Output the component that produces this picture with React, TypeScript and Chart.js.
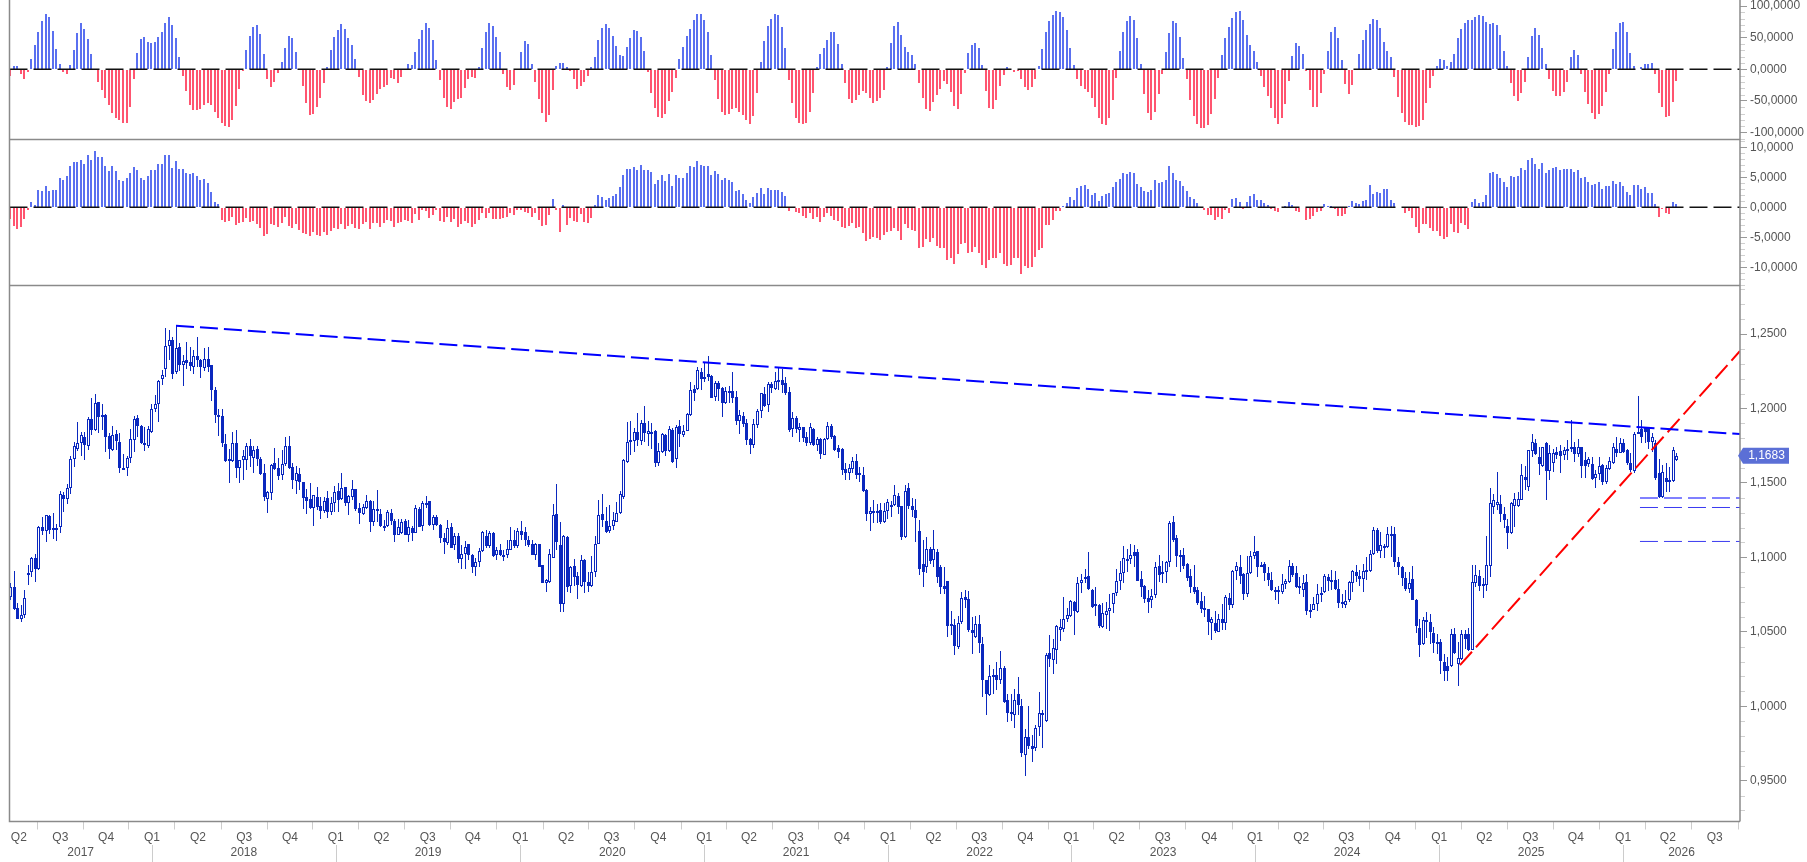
import React, { useEffect, useRef } from 'react';
import { Chart, registerables } from 'chart.js';

Chart.register(...registerables);

// weekly candles, prices in pips (1.1683 -> 11683)
const opens = [
  10735,10798,10657,10587,10610,10892,10903,10993,10923,11201,11174,11277,11194,11194,11201,11418,11389,11463,11658,11730,
  11765,11808,11745,11927,11857,12041,11954,11954,11815,11721,11828,11772,11595,11602,11665,11786,11933,11882,11765,11750,
  11842,11996,12027,12195,12263,12422,12458,12245,12411,12294,12323,12310,12281,12350,12323,12274,12330,12290,12122,11956,
  11949,11761,11658,11649,11765,11602,11653,11651,11745,11667,11725,11658,11570,11389,11434,11631,11600,11555,11624,11745,
  11606,11515,11557,11506,11403,11389,11331,11403,11342,11313,11396,11306,11367,11445,11389,11470,11367,11403,11456,11331,
  11290,11331,11376,11235,11317,11290,11212,11212,11295,11241,11152,11165,11241,11152,11194,11165,11324,11212,11353,11376,
  11219,11268,11217,11127,11098,11205,11082,11143,10986,11022,11089,11015,10937,10972,11040,11143,11075,11161,11017,11049,
  11017,11013,11049,11120,11075,11174,11170,11120,11087,11017,11089,10946,10831,10836,10997,11290,11082,10690,11136,10807,
  10941,10874,10807,10981,10834,10809,10899,11093,11290,11241,11178,11214,11239,11295,11407,11642,11786,11781,11842,11783,
  11900,11830,11839,11846,11635,11707,11821,11716,11855,11658,11880,11824,11851,11954,12128,12128,12247,12209,12229,12218,
  12077,12169,12137,12039,12119,12115,12077,11918,11949,11902,11792,11756,11886,11980,12095,12025,12164,12131,12175,12191,
  12171,12110,11864,11933,11857,11873,11808,11765,11862,11756,11795,11689,11792,11882,11815,11732,11725,11591,11564,11595,
  11647,11564,11553,11452,11288,11306,11306,11315,11239,11313,11349,11349,11409,11342,11138,11463,11342,11317,11176,10955,
  10937,11055,10981,11035,10932,10807,10838,10551,10549,10399,10565,10733,10719,10511,10466,10551,10421,10175,10076,10213,
  10213,10175,10260,10041,9964,9942,10079,10005,9673,9796,9731,9720,9861,9944,9902,10361,10314,10381,10513,10520,
  10587,10607,10699,10634,10829,10856,10872,10784,10677,10683,10533,10616,10643,10690,10762,10843,10898,10984,10986,11033,
  11033,10852,10811,10724,10713,10748,10939,10890,10903,10966,11235,11127,11019,11013,10954,10872,10798,10778,10710,10657,
  10650,10560,10556,10500,10589,10560,10724,10681,10910,10932,10887,10757,10894,11010,11042,10946,10954,10892,10847,10780,
  10778,10769,10820,10834,10939,10892,10791,10784,10835,10638,10645,10690,10757,10768,10869,10851,10846,10790,10685,10683,
  10712,10828,10900,10878,10855,10909,10907,11021,11187,11044,11071,11070,11149,11155,10972,10932,10862,10786,10858,10712,
  10528,10419,10578,10566,10495,10430,10430,10300,10268,10273,10483,10282,10320,10483,10483,10380,10828,10873,10806,10817,
  10940,11335,11355,11357,11290,11214,11164,11344,11344,11388,11541,11474,11716,11771,11671,11617,11771,11577,11637,11709,
  11716,11686,11716,11729,11742,11693,11738,11653,11626,11624,11530,11559,11619,11507,11595,11637,11731,11704,11769,11720,
  11637,11581,11832,11859,11866,11866,11776,11769,11568,11406,11536,11507,11512,11657,
];
const highs = [
  10825,10907,10695,10679,10780,10948,11004,11022,11210,11268,11282,11284,11295,11221,11445,11441,11492,11680,11774,11906,
  11844,11844,11945,12070,12097,12045,12030,11960,11833,11884,11855,11833,11694,11680,11862,11949,11956,11891,11877,11882,
  12030,12090,12191,12258,12540,12527,12478,12561,12437,12359,12446,12410,12393,12480,12334,12404,12410,12292,12142,11994,
  11994,11828,11727,11839,11855,11653,11721,11765,11795,11750,11750,11676,11624,11447,11627,11732,11669,11721,11806,11815,
  11631,11615,11597,11508,11456,11497,11418,11470,11403,11407,11447,11407,11479,11497,11570,11474,11418,11519,11461,11367,
  11358,11416,11385,11376,11452,11322,11250,11317,11322,11259,11259,11257,11259,11250,11212,11351,11340,11380,11411,11380,
  11284,11284,11221,11161,11250,11232,11165,11161,11082,11111,11089,11026,10999,11060,11176,11183,11176,11170,11071,11093,
  11049,11116,11205,11183,11194,11243,11201,11143,11120,11098,11093,10952,10858,11053,11358,11492,11239,11149,11143,10941,
  10988,10903,11015,10986,10899,11008,11143,11385,11425,11340,11351,11306,11371,11447,11658,11909,11918,11866,11967,11922,
  12016,11915,11900,11855,11770,11833,11828,11882,11866,11889,11922,11889,11967,12178,12157,12276,12269,12307,12352,12225,
  12187,12184,12142,12146,12151,12245,12117,11989,11978,11927,11799,11931,11994,12106,12146,12180,12180,12245,12276,12263,
  12213,12146,11978,11949,11900,11877,11844,11904,11868,11806,11803,11801,11907,11893,11819,11754,11732,11635,11627,11671,
  11694,11604,11604,11456,11335,11385,11358,11367,11362,11389,11380,11485,11434,11344,11485,11501,11396,11389,11250,11120,
  11134,11071,11183,11053,10948,10932,10840,10639,10589,10605,10766,10784,10773,10601,10605,10612,10462,10179,10276,10253,
  10296,10370,10269,10085,10081,10115,10197,10047,9850,10000,9805,9873,10094,9973,10361,10477,10451,10545,10589,10731,
  10657,10713,10708,10865,10887,10925,11035,10789,10802,10690,10695,10699,10757,10762,10925,10975,11075,11053,11093,11082,
  11053,10907,10813,10780,10787,10966,11015,10975,10975,11241,11277,11147,11049,11060,10959,10925,10948,10802,10766,10739,
  10652,10601,10639,10618,10690,10746,10762,10914,10966,11015,10896,11008,11042,11143,11044,10970,10968,10932,10901,10798,
  10807,10887,10858,10981,10959,10941,10865,10880,10887,10690,10734,10820,10802,10891,10891,10914,10909,10853,10752,10779,
  10840,10918,10947,10914,10958,11003,11048,11205,11200,11171,11093,11205,11209,11205,11003,10940,10902,10902,10940,10723,
  10589,10600,10634,10622,10533,10488,10454,10354,10331,10522,10524,10432,10510,10515,10524,10949,10947,10914,10862,11142,
  11469,11424,11572,11422,11339,11261,11373,11429,11440,11630,11612,11720,11827,11792,11742,11742,11776,11754,11731,11742,
  11754,11742,11787,11922,11776,11792,11742,11709,11675,11675,11590,11675,11624,11619,11675,11765,11810,11805,11792,11731,
  11698,11843,12083,11926,11877,11877,11832,11787,11664,11619,11635,11608,11742,11702,
];
const lows = [
  10713,10645,10583,10569,10592,10813,10865,10834,10914,11149,11102,11156,11125,11111,11165,11304,11358,11425,11609,11716,
  11680,11653,11721,11819,11848,11833,11855,11709,11662,11712,11721,11568,11586,11548,11635,11707,11810,11761,11716,11732,
  11837,11978,11911,12157,12209,12325,12200,12231,12254,12151,12267,12254,12231,12281,12207,12254,12245,12052,11904,11817,
  11743,11642,11501,11642,11532,11501,11519,11586,11609,11568,11613,11555,11380,11295,11385,11586,11519,11519,11615,11595,
  11459,11425,11452,11324,11290,11322,11210,11317,11257,11295,11264,11284,11306,11306,11385,11344,11284,11385,11313,11223,
  11286,11322,11172,11214,11239,11205,11178,11205,11217,11102,11147,11156,11147,11102,11111,11161,11201,11179,11331,11212,
  11183,11214,11098,11022,11082,11060,11049,10959,10925,10925,10981,10896,10876,10937,11037,11066,11066,11004,10981,11008,
  10977,10995,11049,11062,11066,11116,11075,11071,11015,10981,10932,10825,10769,10831,10995,11049,10634,10634,10769,10762,
  10807,10722,10802,10762,10769,10802,10865,11089,11205,11165,11165,11187,11235,11290,11394,11631,11687,11707,11747,11754,
  11774,11747,11730,11609,11613,11703,11680,11709,11635,11600,11743,11806,11848,11949,12052,12124,12124,12180,12186,12068,
  12052,12052,11945,12030,12039,12039,11891,11828,11873,11754,11694,11732,11866,11936,12007,11976,12106,12124,12124,12101,
  12092,11844,11806,11837,11777,11772,11747,11754,11747,11716,11662,11689,11788,11792,11712,11665,11553,11519,11519,11568,
  11528,11506,11441,11246,11178,11232,11228,11221,11234,11255,11268,11344,11290,11116,11131,11326,11273,11105,10881,10802,
  10896,10955,10937,10829,10753,10753,10466,10477,10343,10383,10551,10657,10498,10350,10459,10359,10061,9940,10072,10085,
  10112,10148,10023,9895,9902,9852,9940,9660,9530,9716,9624,9700,9799,9720,9895,10265,10215,10283,10437,10500,
  10565,10601,10477,10627,10762,10829,10784,10663,10607,10524,10524,10518,10507,10627,10739,10780,10829,10901,10955,10932,
  10840,10735,10695,10627,10657,10728,10834,10829,10829,10934,11102,10932,10903,10925,10843,10762,10757,10679,10627,10601,
  10477,10444,10493,10500,10511,10511,10645,10659,10847,10820,10713,10735,10887,10990,10869,10932,10840,10807,10775,10713,
  10686,10753,10787,10829,10865,10793,10757,10734,10611,10591,10645,10640,10701,10761,10775,10784,10784,10663,10660,10660,
  10701,10768,10835,10811,10768,10846,10902,11014,11030,10996,10996,11066,11003,10936,10880,10806,10775,10761,10712,10492,
  10331,10414,10461,10421,10358,10354,10219,10170,10170,10264,10354,10136,10309,10387,10372,10376,10802,10775,10728,10775,
  10869,11294,11317,11238,11194,11059,11160,11205,11339,11384,11451,11447,11675,11686,11552,11608,11384,11518,11574,11664,
  11568,11653,11657,11709,11642,11671,11536,11536,11608,11518,11469,11518,11485,11491,11586,11630,11675,11698,11698,11619,
  11574,11568,11832,11765,11765,11731,11709,11523,11402,11402,11440,11440,11507,11648,
];
const closes = [
  10798,10650,10589,10610,10724,10883,10995,10923,11203,11178,11282,11187,11192,11187,11423,11394,11463,11658,11750,11765,
  11819,11756,11927,11857,12034,11940,11947,11810,11730,11819,11783,11602,11602,11665,11792,11927,11884,11765,11752,11862,
  11994,12027,12184,12222,12417,12458,12234,12404,12294,12316,12303,12287,12350,12323,12281,12330,12278,12126,11958,11940,
  11770,11649,11649,11765,11602,11651,11682,11745,11682,11718,11658,11559,11407,11436,11618,11593,11548,11624,11745,11602,
  11519,11564,11506,11400,11380,11333,11418,11335,11313,11376,11306,11367,11436,11387,11463,11364,11409,11456,11326,11295,
  11340,11376,11235,11322,11322,11214,11214,11302,11246,11147,11201,11235,11152,11201,11165,11331,11205,11362,11367,11217,
  11268,11217,11127,11100,11194,11066,11143,10986,11026,11071,11013,10937,10972,11040,11170,11075,11161,11010,11049,11017,
  11010,11053,11120,11075,11174,11152,11116,11082,11017,11093,10937,10829,10847,11026,11282,11105,10690,11143,10802,10932,
  10869,10813,10981,10834,10807,10899,11093,11282,11250,11170,11214,11248,11295,11425,11653,11772,11777,11842,11788,11900,
  11837,11846,11837,11631,11712,11826,11716,11860,11642,11873,11828,11851,11962,12122,12106,12256,12198,12200,12213,12072,
  12169,12133,12039,12115,12113,12068,11918,11954,11895,11788,11756,11895,11980,12101,12016,12164,12137,12182,12191,12157,
  12104,11855,11933,11862,11873,11803,11768,11873,11756,11792,11694,11797,11880,11806,11721,11707,11586,11564,11597,11647,
  11555,11555,11447,11288,11313,11313,11313,11239,11313,11371,11355,11416,11340,11138,11443,11344,11317,11266,10923,10903,
  11055,10977,11055,10869,10802,10789,10542,10545,10406,10556,10724,10715,10511,10493,10551,10426,10177,10085,10206,10206,
  10177,10256,10029,9955,9949,10041,10011,9687,9796,9734,9714,9857,9958,9958,10347,10318,10394,10538,10529,10583,
  10612,10706,10641,10825,10851,10865,10789,10668,10690,10540,10627,10643,10663,10762,10838,10898,10999,10988,11019,11008,
  10843,10798,10722,10701,10742,10932,10883,10905,10968,11228,11116,11010,11004,10943,10863,10798,10769,10695,10654,10648,
  10567,10583,10504,10589,10560,10731,10677,10907,10939,10876,10753,10892,11006,11033,10934,10939,10896,10847,10780,10773,
  10769,10818,10838,10939,10881,10802,10807,10831,10640,10649,10690,10757,10763,10873,10844,10840,10790,10694,10701,10710,
  10833,10907,10873,10855,10909,10918,11026,11187,11044,11082,11077,11160,11160,10972,10932,10864,10790,10831,10716,10537,
  10414,10578,10564,10497,10425,10421,10302,10237,10237,10488,10358,10324,10488,10452,10376,10833,10880,10806,10824,10952,
  11362,11388,11371,11294,11250,11164,11362,11393,11395,11550,11523,11720,11776,11693,11624,11738,11581,11702,11702,11686,
  11680,11720,11729,11742,11693,11742,11615,11615,11660,11525,11563,11615,11507,11597,11646,11738,11698,11771,11709,11635,
  11586,11828,11843,11810,11839,11776,11810,11536,11406,11572,11507,11518,11720,11683,
];

// upper oscillator
const fastOsc = [
  -11,5,5,-7,-15,-5,16,38,59,76,88,83,61,32,8,-5,-7,7,31,57,73,63,48,24,0,-20,-33,-45,-56,-69,-77,-80,-85,-85,-59,-15,26,48,51,43,
  41,43,51,59,73,83,70,50,20,-11,-35,-56,-64,-64,-62,-56,-53,-56,-68,-77,-85,-90,-92,-80,-58,-31,-3,31,53,67,70,56,24,-15,-28,-20,-6,12,34,53,
  50,27,0,-26,-53,-72,-71,-60,-45,-22,4,31,51,62,72,64,50,39,16,-12,-41,-50,-53,-49,-39,-31,-28,-25,-14,-15,-22,-12,0,8,7,27,48,62,73,65,
  46,15,-17,-45,-60,-63,-52,-47,-45,-30,-16,-12,-14,4,34,59,73,69,51,27,-7,-28,-33,-25,0,27,45,40,8,-20,-47,-69,-83,-72,-33,5,10,10,4,-3,
  -15,-31,-26,-20,-11,4,20,46,65,72,65,53,37,23,21,35,50,62,61,51,29,-5,-37,-61,-75,-77,-71,-50,-36,-14,16,35,52,64,78,88,88,78,59,23,
  -17,-47,-68,-73,-71,-62,-61,-67,-73,-80,-86,-74,-37,12,45,69,80,88,86,67,33,-17,-54,-77,-85,-86,-85,-68,-38,4,24,34,46,59,59,40,8,-22,
  -47,-54,-49,-40,-35,-38,-45,-53,-50,-46,-33,3,42,69,75,54,35,27,23,8,-22,-45,-62,-66,-52,-41,-31,-18,-23,-36,-58,-63,-39,-6,25,39,42,34,7,-34,
  -61,-63,-49,-26,-9,4,0,-4,-3,-15,-28,-33,-28,-15,5,32,59,76,86,92,91,82,62,34,7,-15,-26,-31,-36,-45,-60,-77,-86,-88,-77,-49,-14,29,59,76,
  84,78,50,8,-39,-69,-80,-68,-39,-7,27,57,76,73,51,18,-15,-49,-74,-86,-93,-93,-88,-71,-47,-13,23,50,67,81,91,92,78,55,39,29,12,-11,-28,-42,-61,
  -77,-86,-77,-55,-18,21,41,37,24,-3,-33,-59,-60,-37,-7,29,59,67,50,15,-23,-39,-25,0,24,46,62,72,80,78,65,43,29,20,-12,-44,-69,-83,-88,-88,
  -91,-90,-80,-54,-30,-11,5,16,15,5,12,24,50,64,73,78,78,83,86,84,75,72,73,70,54,29,5,-21,-42,-50,-37,-20,20,53,65,54,33,9,-15,-34,
  -43,-42,-36,-20,20,31,23,-7,-36,-55,-69,-79,-71,-58,-36,-7,32,59,73,75,59,26,5,0,4,8,8,10,-7,-37,-60,-75,-74,-51,-18,
];

// lower oscillator
const slowOsc = [
  -1.9,-3.1,-3.6,-3.3,-2,-.4,.9,.4,2.9,2.7,3.6,2.8,2.9,2.9,4.9,4.6,5.2,6.9,7.6,7.6,7.9,7.2,8.7,7.9,9.4,8.4,8.4,6.9,6.1,6.9,
  6.1,4.6,4.4,4.9,5.7,6.7,6.2,4.9,4.6,5.2,6.2,6.2,7.2,7.2,8.7,8.7,6.6,7.7,6.4,6.4,5.7,5.6,5.7,5.2,4.6,4.7,4.1,2.6,.9,.6,
  -2.1,-2.4,-2.3,-1.6,-2.9,-2.6,-2.4,-1.8,-2.4,-2.3,-2.8,-3.4,-4.7,-4.4,-2.8,-2.9,-3.3,-2.6,-1.6,-3.1,-3.4,-2.8,-3.8,-4.3,-4.4,-4.8,-4.1,-4.6,-4.8,-4.1,
  -4.6,-3.9,-3.4,-3.6,-2.8,-3.6,-3.1,-2.8,-3.4,-3.6,-2.8,-2.4,-3.6,-2.6,-2.6,-3.3,-2.6,-2.1,-2.3,-3.3,-2.6,-2.4,-2.1,-2.3,-2.6,-1.1,-2.1,-.4,-.6,-1.8,
  -1.3,-.4,-2.3,-2.4,-1.6,-2.4,-1.9,-3.3,-2.8,-2.3,-2.6,-3.3,-2.8,-2.1,-.9,-1.8,-.9,-1.9,-1.9,-1.9,-1.8,-1.6,-.9,-1.3,-.4,-.4,-.8,-.9,-1.6,-.9,
  -2.1,-3.1,-2.9,-1.3,1.4,-.4,-4.1,.4,-2.9,-1.8,-2.3,-2.4,-1.1,-2.4,-2.6,-1.8,.4,2.1,
  1.8,1.2,1.6,1.9,2.2,3.4,5.4,6.4,6.4,6.7,6.2,7.1,6.2,6.2,5.9,3.9,4.6,5.4,4.4,5.6,3.6,5.4,4.9,4.9,5.7,6.9,6.7,7.7,7.1,6.9,
  6.9,5.4,6.1,5.6,4.6,4.9,4.6,4.2,2.7,2.9,2.2,1.2,.7,1.7,2.4,3.2,2.2,3.2,2.9,2.9,2.9,2.6,1.9,-.6,0,-.8,-1,-1.4,-1.8,-.9,
  -1.9,-1.6,-2.4,-1.6,-.9,-1.4,-2.1,-2.3,-3.3,-3.4,-3.1,-2.6,-3.4,-3.3,-4.3,-5.6,-5.2,-4.9,-5.1,-5.4,-4.6,-4.1,-3.9,-3.4,-3.9,-5.4,-2.8,-3.4,-3.8,-3.9,
  -6.7,-6.6,-5.3,-5.8,-5.1,-6.4,-6.8,-6.8,-8.8,-8.4,-9.4,-7.8,-6.1,-5.9,-7.6,-7.4,-6.6,-7.6,-9.6,-10.1,-8.8,-8.4,-8.4,-7.6,-9.4,-9.8,-9.6,-8.4,-8.4,-11.1,
  -9.8,-10.1,-9.9,-8.3,-7.1,-6.8,-2.9,-2.9,-2.1,-.6,-.6,.3,.7,1.7,1.2,3.2,3.6,3.7,3.1,2.1,2.4,1.1,1.9,2.2,2.4,3.4,4.2,4.7,5.7,5.6,
  5.9,5.7,3.9,3.4,2.7,2.6,2.9,4.6,4.1,4.2,4.6,6.9,5.7,4.6,4.4,3.6,2.7,1.7,1.4,.7,
  0,-.4,-1.3,-1.3,-2.1,-1.6,-1.9,-.4,-.9,1.4,1.6,.9,-.2,.9,1.9,2.2,1.2,1.2,.7,.4,-.3,-.6,-.8,0,.2,.9,.4,-.6,-.8,0,
  -2.1,-1.9,-1.4,-.8,-.6,.6,.2,.2,-.3,-1.4,-1.4,-1.1,.2,1,.7,.6,1.1,1.2,3.7,2.2,2.5,2.4,3,3,1.2,.7,0,0,-.9,-.6,
  -1.7,-3.3,-4.3,-2.8,-2.8,-3.4,-3.9,-3.9,-4.8,-5.3,-4.9,-2.8,-4.1,-4.3,-2.6,-2.9,-3.6,.9,1.4,.8,.9,2.1,5.7,5.9,5.6,4.9,4.2,3.4,5.2,5.1,
  5.2,6.6,6.2,7.9,8.2,7.2,6.4,7.4,5.7,6.2,6.6,6.7,6.2,6.4,6.4,6.4,5.9,6.2,4.9,5.1,4.2,3.7,3.9,4.2,3.1,3.6,3.6,4.4,3.9,4.2,
  3.6,2.6,2.1,3.7,3.7,3.1,3.4,2.4,2.4,.6,-1.6,-.3,-.9,-1.1,.9,.6,
];

const fastTicks = [100, 50, 0, -50, -100];
const slowTicks = [10, 5, 0, -5, -10];
const priceTicks = [12500, 12000, 11500, 11000, 10500, 10000, 9500];

const quarterTicks = [1,14.2,27.2,40.2,53.3,66.4,79.4,92.4,105.4,118.5,131.3,144.8,157.8,170.7,184,197,209.7,223,236.1,249.2,262.1,275.1,288.2,301.2,314.1,327.2,340.4,353.4,366.5,379.3,392.5,405.7,418.5,431.6,444.5,457.9,470.6,483.9];
const quarterLabels = ['   Q2','Q3','Q4','Q1','Q2','Q3','Q4','Q1','Q2','Q3','Q4','Q1','Q2','Q3','Q4','Q1','Q2','Q3','Q4','Q1','Q2','Q3','Q4','Q1','Q2','Q3','Q4','Q1','Q2','Q3','Q4','Q1','Q2','Q3','Q4','Q1','Q2','Q3'];
const years = ['2017','2018','2019','2020','2021','2022','2023','2024','2025','2026'];
const yearStarts = [40.2,92.4,144.8,197,249.2,301.2,353.4,405.7,457.9];

const lastPrice = 11683;
// trend lines: [week, pips]
const resistanceLine = [[47.05, 12556], [491.1, 11828]];
const supportLine = [[411.6, 10276], [491.1, 12386]];
const levelStart = 462.7;
const levelEnd = 491.1;
const levels = [11399, 11335, 11107];

const X_MIN = -0.227;
const X_MAX = 491.1;

const BLUE = '#0A28BE';
const OSC_BLUE = '#5A70F0';
const OSC_RED = '#FF5570';
const AXIS_GREY = '#8a8a8a';
const TEXT = '#555555';

const fmt = (v: number) => v.toFixed(4).replace('.', ',');
const fmtPips = (v: number) => fmt(v / 10000);

// snaps the bars to whole pixels so they stay crisp like the original
const snapBars = {
  id: 'snapBars',
  afterDatasetsUpdate(chart: any) {
    chart.data.datasets.forEach((ds: any, i: number) => {
      if (ds.type && ds.type !== 'bar') return;
      const odd = ds.barThickness % 2 === 1;
      chart.getDatasetMeta(i).data.forEach((el: any) => {
        el.x = Math.round(el.x) + (odd ? 0.5 : 0);
        el.y = Math.round(el.y);
        el.base = Math.round(el.base);
        if (ds.label === 'bodies' && Math.abs(el.y - el.base) < 2) el.base = el.y + 2;
      });
    });
  },
};

const chrome = {
  id: 'chrome',
  afterDraw(chart: any) {
    const { ctx, chartArea: a, scales } = chart;
    const { x, yTop, yMid, yMain } = scales;
    ctx.save();

    // minor ticks
    ctx.strokeStyle = '#d0d0d0';
    ctx.lineWidth = 1;
    const minor = (s: any, step: number, skip: number) => {
      for (let v = Math.ceil(s.min / step) * step; v <= s.max; v += step) {
        if (Math.abs(v % skip) < 1e-6) continue;
        const y = Math.round(s.getPixelForValue(v)) + 0.5;
        ctx.beginPath();
        ctx.moveTo(a.right, y);
        ctx.lineTo(a.right + 5, y);
        ctx.stroke();
      }
    };
    minor(yTop, 10, 50);
    minor(yMid, 1, 5);
    minor(yMain, 100, 500);

    // pane frame
    ctx.strokeStyle = AXIS_GREY;
    ctx.lineWidth = 1.5;
    ctx.beginPath();
    ctx.moveTo(a.left, 0);
    ctx.lineTo(a.left, a.bottom);
    ctx.lineTo(a.right, a.bottom);
    ctx.moveTo(a.right, 0);
    ctx.lineTo(a.right, a.bottom);
    ctx.moveTo(a.left, yTop.bottom);
    ctx.lineTo(a.right, yTop.bottom);
    ctx.moveTo(a.left, yMid.bottom);
    ctx.lineTo(a.right, yMid.bottom);
    ctx.stroke();

    // year row
    const edges = [a.left, ...yearStarts.map((w) => x.getPixelForValue(w)), a.right];
    ctx.strokeStyle = '#cccccc';
    ctx.lineWidth = 1;
    yearStarts.forEach((w) => {
      const px = Math.round(x.getPixelForValue(w)) + 0.5;
      ctx.beginPath();
      ctx.moveTo(px, 845);
      ctx.lineTo(px, 862);
      ctx.stroke();
    });
    ctx.fillStyle = TEXT;
    ctx.font = '12px "Liberation Sans"';
    ctx.textAlign = 'center';
    ctx.textBaseline = 'middle';
    years.forEach((yr, i) => ctx.fillText(yr, (edges[i] + edges[i + 1]) / 2, 853));

    // last price tag
    const py = yMain.getPixelForValue(lastPrice);
    ctx.fillStyle = '#5B6FD6';
    ctx.beginPath();
    ctx.moveTo(a.right - 2, py);
    ctx.lineTo(a.right + 3, py - 8);
    ctx.lineTo(a.right + 49, py - 8);
    ctx.lineTo(a.right + 49, py + 8);
    ctx.lineTo(a.right + 3, py + 8);
    ctx.closePath();
    ctx.fill();
    ctx.fillStyle = '#ffffff';
    ctx.fillText(fmtPips(lastPrice), a.right + 26.5, py + 0.5);

    ctx.restore();
  },
};

const yAxis = (weight: number, min: number, max: number, values: number[], format: (v: number) => string) => ({
  type: 'linear',
  position: 'right',
  stack: 'panes',
  stackWeight: weight,
  min,
  max,
  afterBuildTicks: (s: any) => {
    s.ticks = values.map((value) => ({ value }));
  },
  afterFit: (s: any) => {
    s.width = 67;
    s.paddingTop = 0;
    s.paddingBottom = 0;
  },
  border: { display: false },
  grid: { drawOnChartArea: false, drawTicks: true, tickLength: 7, tickColor: '#999999' },
  ticks: {
    autoSkip: false,
    padding: 3,
    color: TEXT,
    font: { size: 12 },
    callback: (v: number) => format(v),
  },
});

const zeroLine = (yAxisID: string) => ({
  type: 'line',
  label: yAxisID + ' zero',
  yAxisID,
  data: [{ x: X_MIN, y: 0 }, { x: X_MAX, y: 0 }],
  borderColor: '#111111',
  borderWidth: 1.5,
  borderDash: [18, 6],
  pointRadius: 0,
  order: 0,
});

const oscBars = (label: string, yAxisID: string, values: number[]) => ({
  type: 'bar',
  label,
  yAxisID,
  data: values.map((v, i) => ({ x: i, y: v })),
  backgroundColor: values.map((v) => (v >= 0 ? OSC_BLUE : OSC_RED)),
  barThickness: 2,
  inflateAmount: 0,
  grouped: false,
  order: 1,
});

const trend = (label: string, pts: number[][], color: string) => ({
  type: 'line',
  label,
  yAxisID: 'yMain',
  data: pts.map(([x, y]) => ({ x, y })),
  borderColor: color,
  borderWidth: 2,
  borderDash: [18, 6],
  pointRadius: 0,
  order: 0,
});

export default function App() {
  const canvasRef = useRef<HTMLCanvasElement>(null);

  useEffect(() => {
    if (!canvasRef.current) return;
    Chart.defaults.font.family = '"Liberation Sans", Arial, sans-serif';

    const chart = new Chart(canvasRef.current, {
      type: 'bar',
      data: {
        datasets: [
          oscBars('fast', 'yTop', fastOsc),
          oscBars('slow', 'yMid', slowOsc),
          zeroLine('yTop'),
          zeroLine('yMid'),
          {
            type: 'bar',
            label: 'wicks',
            yAxisID: 'yMain',
            data: highs.map((h, i) => ({ x: i, y: [lows[i], h] })),
            backgroundColor: BLUE,
            barThickness: 1,
            inflateAmount: 0,
            grouped: false,
            order: 3,
          },
          {
            type: 'bar',
            label: 'bodies',
            yAxisID: 'yMain',
            data: opens.map((o, i) => ({ x: i, y: [o, closes[i]] })),
            backgroundColor: opens.map((o, i) => (closes[i] >= o ? '#ffffff' : BLUE)),
            borderColor: BLUE,
            borderWidth: 1,
            borderSkipped: false,
            inflateAmount: 0,
            barThickness: 3,
            grouped: false,
            order: 2,
          },
          trend('resistance', resistanceLine, '#0000FF'),
          trend('support', supportLine, '#FF0000'),
          ...levels.map((lv, i) => ({
            type: 'line',
            label: 'level ' + lv,
            yAxisID: 'yMain',
            data: [{ x: levelStart, y: lv }, { x: levelEnd, y: lv }],
            borderColor: i === 0 ? '#8080FF' : '#3A3AF0',
            borderWidth: i === 0 ? 2 : 1,
            borderDash: [18, 6],
            pointRadius: 0,
            order: 0,
          })),
        ] as any,
      },
      options: {
        animation: false,
        responsive: false,
        devicePixelRatio: 1,
        events: [],
        layout: { padding: { left: 9.5, right: 0, top: 0, bottom: 0 } },
        plugins: { legend: { display: false }, tooltip: { enabled: false } },
        scales: {
          x: {
            type: 'linear',
            min: X_MIN,
            max: X_MAX,
            offset: false,
            afterFit: (s: any) => {
              s.height = 40.5;
              s.paddingLeft = 0;
              s.paddingRight = 0;
            },
            afterBuildTicks: (s: any) => {
              s.ticks = quarterTicks.map((value) => ({ value }));
            },
            border: { display: false },
            grid: { drawOnChartArea: false, drawTicks: true, tickLength: 8, tickColor: '#cccccc' },
            ticks: {
              autoSkip: false,
              maxRotation: 0,
              padding: 1,
              color: TEXT,
              font: { size: 12 },
              callback: (_v: number, i: number) => quarterLabels[i],
            },
          },
          yTop: yAxis(139.5, -111, 109.6, fastTicks, fmt),
          yMid: yAxis(146, -13.03, 11.3, slowTicks, fmt),
          yMain: yAxis(536, 9226, 12826, priceTicks, fmtPips),
        } as any,
      },
      plugins: [snapBars, chrome],
    });

    return () => chart.destroy();
  }, []);

  return (
    <div style={{ position: 'absolute', left: 0, top: 0, width: 1807, height: 862, background: '#fff' }}>
      <canvas ref={canvasRef} width={1807} height={862} style={{ display: 'block' }} />
    </div>
  );
}
